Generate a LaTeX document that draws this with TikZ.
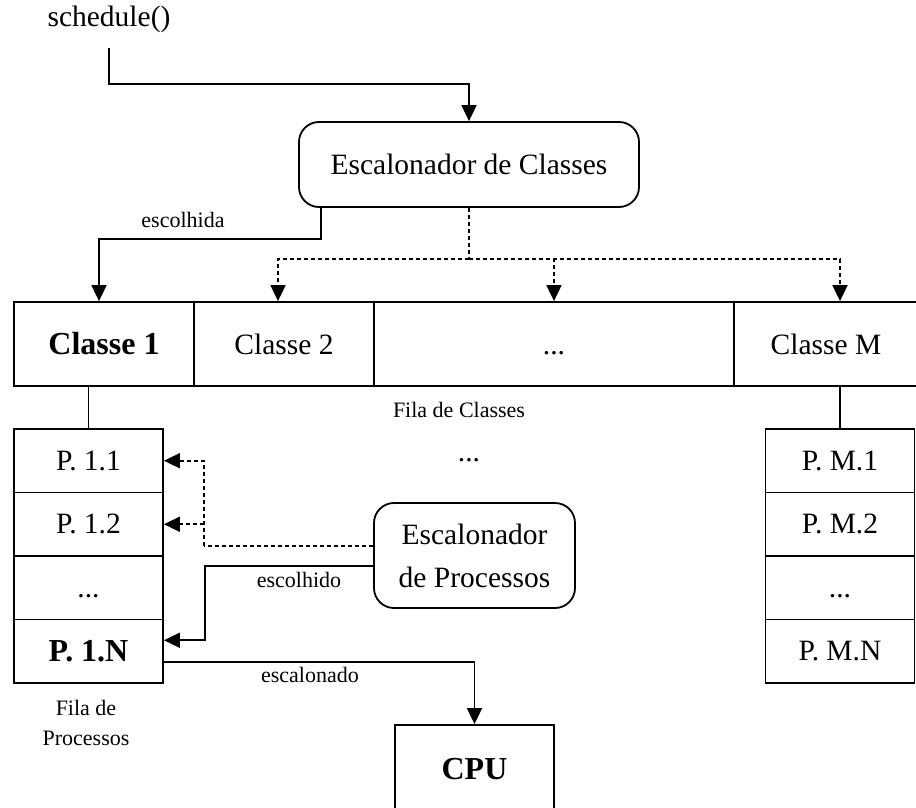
\documentclass[tikz,border=0pt]{standalone}
\usepackage{fontspec}
\setmainfont{Liberation Serif}
\usetikzlibrary{arrows.meta}
\begin{document}
\begin{tikzpicture}[x=1pt,y=-1pt,
  line width=1.8pt,
  txt/.style={font=\fontsize{29.5}{34}\selectfont},
  bld/.style={font=\fontsize{32}{36}\selectfont\bfseries},
  lbl/.style={font=\fontsize{22}{30}\selectfont, inner sep=0pt},
  cell/.style={draw, rectangle, inner sep=0pt, minimum height=84pt},
  qcell/.style={draw, rectangle, inner sep=0pt, minimum width=149pt, minimum height=63.5pt},
  rbox/.style={draw, rectangle, rounded corners=20pt, inner sep=0pt},
  arr/.style={-{Triangle[width=15pt,length=16pt]}},
  dotl/.style={dash pattern=on 4pt off 3pt},
]
\useasboundingbox (0,0) rectangle (916,808);
\clip (0,0) rectangle (916,808);

% entry point and class scheduler
\node[txt, anchor=base] (sched) at (109,27) {schedule()};
\node[rbox, txt, minimum width=340pt, minimum height=85pt] (escC) at (469,164.5) {Escalonador de Classes};

% class queue
\node[cell, bld, minimum width=180pt] (c1) at (104,344) {Classe 1};
\node[cell, txt, minimum width=180pt] (c2) at (284,344) {Classe 2};
\node[cell, txt, minimum width=360pt] (cd) at (554,344) {\vphantom{Cl}...};
\node[cell, txt, minimum width=184pt] (cM) at (826,344) {Classe M};

% process queue of class 1
\node[qcell, txt] (p11) at (88.5,460.75) {P. 1.1};
\node[qcell, txt] (p12) at (88.5,524.25) {P. 1.2};
\node[qcell, txt] (p1d) at (88.5,587.75) {\vphantom{P}...};
\node[qcell, bld] (p1N) at (88.5,651.25) {P. 1.N};

% process queue of class M
\node[qcell, txt] (pM1) at (840,460.75) {P. M.1};
\node[qcell, txt] (pM2) at (840,524.25) {P. M.2};
\node[qcell, txt] (pMd) at (840,587.75) {\vphantom{P}...};
\node[qcell, txt] (pMN) at (840,651.25) {P. M.N};

% process scheduler and CPU
\node[rbox, minimum width=201pt, minimum height=105pt, align=center,
      font=\fontsize{29.5}{43}\selectfont] (escP) at (474.5,555.5) {Escalonador\\de Processos};
\node[draw, bld, inner sep=0pt, minimum width=159pt, minimum height=88pt] (cpu) at (474.5,769) {CPU};

% labels
\node[lbl, anchor=base] (lesc) at (183,227) {escolhida};
\node[lbl, anchor=base] (lfc) at (459,417) {Fila de Classes};
\node[txt, anchor=base] (gap) at (469,461) {...};
\node[lbl, anchor=base] (lech) at (299,587) {escolhido};
\node[lbl, anchor=base] (lescn) at (310,682) {escalonado};
\node[lbl, align=center] (lfp) at (86,723) {Fila de\\Processos};

% connectors
\coordinate (s0) at (109,48);
\draw[arr] (s0) -- ++(0,36) -| (escC.north);
\draw[arr] ([xshift=23pt]escC.south west) -- ++(0,31) -| ([xshift=-5pt]c1.north);

\coordinate (hub) at (469,259);
\draw[dotl] (escC.south) -- (hub);
\draw[dotl, arr] (hub) -| ([xshift=-6pt]c2.north);
\draw[dotl, arr] (hub) -| (cd.north);
\draw[dotl, arr] (hub) -| ([xshift=14pt]cM.north);

\draw (p11.north) -- (p11.north |- c1.south);
\draw (pM1.north) -- (pM1.north |- cM.south);

\coordinate (pj) at (204,546);
\draw[dotl] ([yshift=9.5pt]escP.west) -- (pj);
\draw[dotl, arr] (pj) |- (p11.east);
\draw[dotl, arr] (pj |- p12.east) -- (p12.east);
\draw[arr] ([yshift=-10.5pt]escP.west) -| ([xshift=41pt,yshift=11pt]p1N.east) -- ([yshift=11pt]p1N.east);
\draw[arr] ([yshift=-11pt]p1N.east) -| (cpu.north);
\end{tikzpicture}
\end{document}
